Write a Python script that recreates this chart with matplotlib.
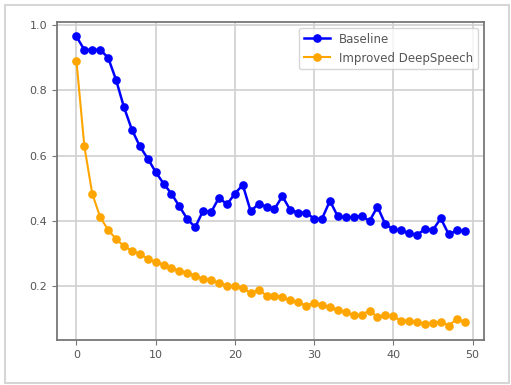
import numpy as np
import matplotlib
matplotlib.use("Agg")
import matplotlib.pyplot as plt
from matplotlib.patches import Rectangle

# values (one per epoch)
epochs = np.arange(50)
baseline = [0.966, 0.925, 0.925, 0.925, 0.901, 0.833, 0.749, 0.680, 0.629, 0.591,
            0.550, 0.514, 0.483, 0.444, 0.405, 0.380, 0.431, 0.426, 0.471, 0.450,
            0.483, 0.510, 0.429, 0.452, 0.443, 0.436, 0.475, 0.433, 0.425, 0.425,
            0.406, 0.406, 0.461, 0.413, 0.410, 0.410, 0.415, 0.399, 0.443, 0.389,
            0.374, 0.370, 0.361, 0.357, 0.374, 0.372, 0.407, 0.358, 0.370, 0.368]
improved = [0.892, 0.629, 0.483, 0.411, 0.372, 0.344, 0.322, 0.308, 0.298, 0.283,
            0.273, 0.264, 0.254, 0.247, 0.240, 0.231, 0.221, 0.218, 0.209, 0.201,
            0.198, 0.194, 0.177, 0.188, 0.170, 0.170, 0.165, 0.155, 0.150, 0.139,
            0.148, 0.142, 0.134, 0.127, 0.119, 0.109, 0.111, 0.124, 0.104, 0.111,
            0.106, 0.093, 0.093, 0.088, 0.083, 0.086, 0.090, 0.078, 0.098, 0.088]
labels = ["Baseline", "Improved DeepSpeech"]

TXT = "#555555"
fig = plt.figure(figsize=(5.11, 3.85), dpi=100)
# light frame around the whole picture
fig.patches.append(Rectangle((5 / 511, 2 / 385), 504 / 511, 378 / 385, transform=fig.transFigure,
                             fill=False, edgecolor="#d6d6d6", linewidth=1.5))
ax = fig.add_axes([57 / 511, 45 / 385, 427 / 511, 318 / 385])

ax.plot(epochs, baseline, "o-", color="blue", lw=1.8, ms=5.2, label=labels[0])
ax.plot(epochs, improved, "o-", color="orange", lw=1.5, ms=5.2, label=labels[1])

ax.set_yticks([0.2, 0.4, 0.6, 0.8, 1.0])
ax.set_xticks([0, 10, 20, 30, 40, 50])
ax.grid(True, color="#d0d0d0", lw=1.2)
ax.set_axisbelow(True)
for s in ax.spines.values():
    s.set_color("#777777"); s.set_linewidth(1.3)
ax.tick_params(labelsize=8, colors=TXT, color="#777777")
leg = ax.legend(loc="upper right", fontsize=8.5, labelcolor=TXT, handlelength=2.2)

fig.savefig("out.png", dpi=100)
